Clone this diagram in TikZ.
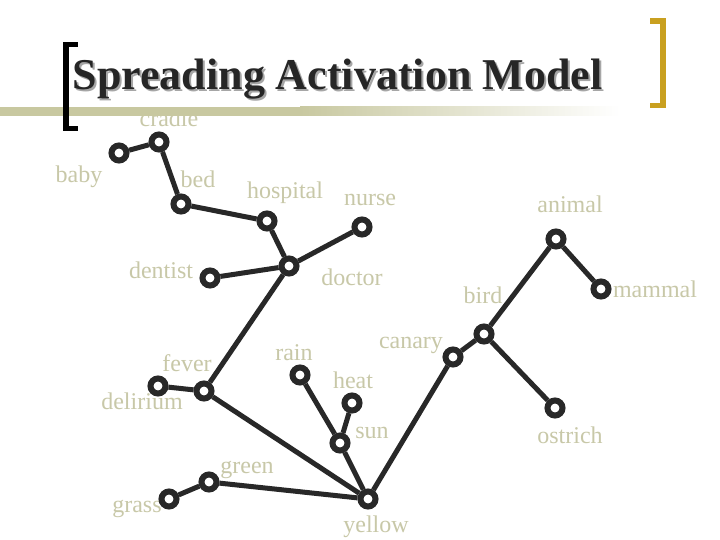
\documentclass[tikz,border=0pt]{standalone}
\usepackage{fontspec}
\setmainfont{Liberation Serif}
\definecolor{wordgray}{RGB}{200,200,168}
\definecolor{linkgray}{RGB}{40,40,40}
\definecolor{barolive}{RGB}{200,200,160}
\definecolor{bracketgold}{RGB}{201,160,32}
\tikzset{
	concept/.style={circle, draw=linkgray, line width=6pt, fill=white, inner sep=0pt, minimum size=15pt},
	word/.style={text=wordgray, font=\fontsize{24}{28}\selectfont, inner sep=0pt, anchor=base},
	link/.style={draw=linkgray, line width=5pt},
}

\begin{document}
\begin{tikzpicture}[x=1pt, y=-1pt]
		%%%%% START %%%%%
		\useasboundingbox[fill=white] (0, 0) rectangle (720, 540);
		
		% words
		\node[word] (cradletxt) at (169, 127) {cradle};
		\node[word] (babytxt) at (79, 183) {baby};
		\node[word] (bedtxt) at (198, 188) {bed};
		\node[word] (hospitaltxt) at (285, 199) {hospital};
		\node[word] (nursetxt) at (370, 206) {nurse};
		\node[word] (dentisttxt) at (161, 278) {dentist};
		\node[word] (doctortxt) at (352, 285) {doctor};
		\node[word] (animaltxt) at (570, 212) {animal};
		\node[word] (mammaltxt) at (655, 297) {mammal};
		\node[word] (birdtxt) at (483, 303) {bird};
		\node[word] (canarytxt) at (411, 348) {canary};
		\node[word] (ostrichtxt) at (570, 443) {ostrich};
		\node[word] (fevertxt) at (187, 371) {fever};
		\node[word] (deliriumtxt) at (142, 409) {delirium};
		\node[word] (raintxt) at (294, 360) {rain};
		\node[word] (heattxt) at (353, 388) {heat};
		\node[word] (suntxt) at (372, 438) {sun};
		\node[word] (greentxt) at (247, 473) {green};
		\node[word] (grasstxt) at (137, 512) {grass};
		\node[word] (yellowtxt) at (376, 532) {yellow};
		
		% title bar and brackets
		\fill[barolive] (0, 107) rectangle (300, 116);
		\shade[left color=barolive, right color=white] (300, 107) rectangle (620, 116);
		\fill[black] (63, 42) rectangle (69, 131);
		\fill[black] (63, 42) rectangle (78, 47);
		\fill[black] (63, 126) rectangle (78, 131);
		\fill[bracketgold] (660, 18) rectangle (666, 108);
		\fill[bracketgold] (650, 18) rectangle (666, 24);
		\fill[bracketgold] (650, 103) rectangle (666, 108);
		
		\node[anchor=base, inner sep=0pt, text=black!35, font=\fontsize{44}{50}\selectfont\bfseries] (titleshadow) at (339.5, 92) {Spreading Activation Model};
		\node[anchor=base, inner sep=0pt, text=black!85, font=\fontsize{44}{50}\selectfont\bfseries] (title) at (337.5, 90) {Spreading Activation Model};
		
		% concepts
		\node[concept] (baby) at (119, 153) {};
		\node[concept] (cradle) at (159, 142) {};
		\node[concept] (bed) at (181, 204) {};
		\node[concept] (hospital) at (267, 221) {};
		\node[concept] (nurse) at (362, 227) {};
		\node[concept] (doctor) at (289, 266) {};
		\node[concept] (dentist) at (210, 278) {};
		\node[concept] (fever) at (204, 391) {};
		\node[concept] (delirium) at (158, 386) {};
		\node[concept] (rain) at (300, 375) {};
		\node[concept] (heat) at (352, 403) {};
		\node[concept] (sun) at (340, 443) {};
		\node[concept] (green) at (209, 482) {};
		\node[concept] (grass) at (169, 499) {};
		\node[concept] (yellow) at (368, 499) {};
		\node[concept] (canary) at (453, 357) {};
		\node[concept] (bird) at (484, 334) {};
		\node[concept] (animal) at (556, 239) {};
		\node[concept] (mammal) at (601, 289) {};
		\node[concept] (ostrich) at (555, 408) {};
		
		% links
		\draw[link] (baby) -- (cradle);
		\draw[link] (cradle) -- (bed);
		\draw[link] (bed) -- (hospital);
		\draw[link] (hospital) -- (doctor);
		\draw[link] (doctor) -- (nurse);
		\draw[link] (doctor) -- (dentist);
		\draw[link] (doctor) -- (fever);
		\draw[link] (fever) -- (delirium);
		\draw[link] (fever) -- (yellow);
		\draw[link] (rain) -- (sun);
		\draw[link] (heat) -- (sun);
		\draw[link] (sun) -- (yellow);
		\draw[link] (green) -- (yellow);
		\draw[link] (grass) -- (green);
		\draw[link] (yellow) -- (canary);
		\draw[link] (canary) -- (bird);
		\draw[link] (bird) -- (animal);
		\draw[link] (animal) -- (mammal);
		\draw[link] (bird) -- (ostrich);
		
		%%%%% END %%%%%
\end{tikzpicture}
\end{document}
